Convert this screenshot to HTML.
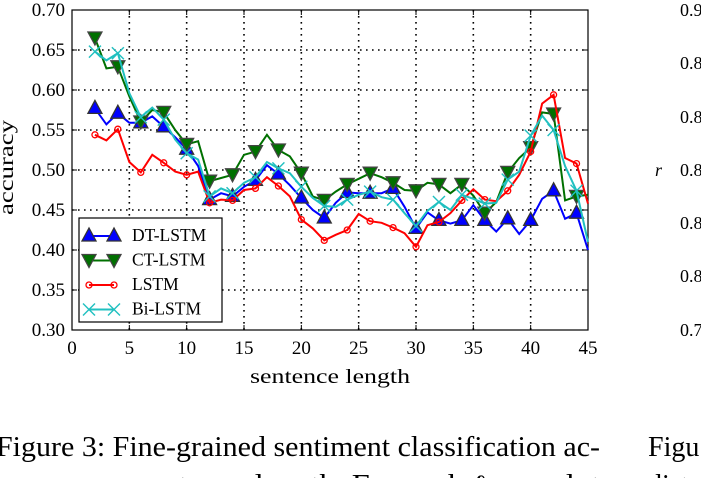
<!DOCTYPE html>
<html><head><meta charset="utf-8"><style>
html,body{margin:0;padding:0;background:#fff;width:701px;height:478px;overflow:hidden}
svg text{font-family:"Liberation Serif",serif}
</style></head><body>
<svg id="chart" width="701" height="478" xmlns="http://www.w3.org/2000/svg">
<g id="grid"></g>
<g id="axes"></g>
<g id="series"></g>
<g id="legend"></g>
<text x="250" y="383" font-size="20" textLength="160" lengthAdjust="spacingAndGlyphs">sentence length</text>
<text transform="translate(13,215) rotate(-90)" font-size="20" textLength="95" lengthAdjust="spacingAndGlyphs">accuracy</text>
<text x="-4" y="456" font-size="28" textLength="604" lengthAdjust="spacingAndGlyphs">Figure 3: Fine-grained sentiment classification ac-</text>
<text x="-4" y="494" font-size="28" textLength="604" lengthAdjust="spacingAndGlyphs">curacy vs. sentence length. For each ℓ, we plot</text>
<g font-size="18">
<text x="680" y="16">0.9</text><text x="680" y="69">0.8</text><text x="680" y="123">0.8</text><text x="680" y="176">0.8</text><text x="680" y="229">0.8</text><text x="680" y="282">0.8</text><text x="680" y="336">0.7</text>
<text x="655" y="176" font-style="italic">r</text>
<text x="648" y="456" font-size="28">Figu</text>
<text x="648" y="494" font-size="28">dist</text>
</g>
</svg>
<script>
const xs=[2,3,4,5,6,7,8,9,10,11,12,13,14,15,16,17,18,19,20,21,22,23,24,25,26,27,28,29,30,31,32,33,34,35,36,37,38,39,40,41,42,43,44,45];
const dtLstm=[.577,.557,.571,.559,.559,.567,.554,.541,.526,.505,.463,.471,.467,.479,.487,.506,.495,.481,.465,.450,.440,.459,.472,.471,.471,.471,.477,.454,.427,.447,.437,.433,.437,.456,.437,.423,.439,.420,.437,.464,.474,.439,.446,.400];
const ctLstm=[.665,.627,.629,.592,.560,.575,.572,.550,.532,.536,.486,.490,.494,.519,.523,.544,.525,.517,.496,.467,.462,.473,.482,.489,.496,.491,.484,.475,.474,.484,.482,.471,.482,.468,.446,.460,.497,.515,.528,.572,.570,.462,.467,.469];
const lstm=[.544,.537,.551,.510,.497,.519,.509,.498,.494,.498,.459,.463,.462,.475,.477,.491,.480,.467,.438,.427,.412,.419,.425,.445,.436,.434,.428,.421,.404,.431,.435,.446,.462,.476,.463,.461,.474,.494,.523,.583,.594,.515,.508,.458];
const biLstm=[.648,.637,.646,.596,.566,.578,.563,.538,.521,.513,.467,.477,.471,.484,.491,.510,.502,.496,.479,.465,.455,.454,.463,.469,.473,.466,.463,.446,.430,.449,.460,.450,.469,.464,.458,.459,.488,.498,.543,.568,.550,.505,.474,.410];
const xTicks=[0,5,10,15,20,25,30,35,40,45];
const yTicks=[0.30,0.35,0.40,0.45,0.50,0.55,0.60,0.65,0.70];
const NS='http://www.w3.org/2000/svg';
const X=v=>72+v*(516/45), Y=v=>10+(0.70-v)*800;
function mk(t,a,p){const e=document.createElementNS(NS,t);for(const k in a)e.setAttribute(k,a[k]);p.appendChild(e);return e;}
const grid=document.getElementById('grid'),axes=document.getElementById('axes'),ser=document.getElementById('series'),leg=document.getElementById('legend');
xTicks.forEach(t=>{
 if(t>0&&t<45){const l=mk('line',{x1:X(t),x2:X(t),y1:10,y2:330,stroke:'#000','stroke-width':1.6,'stroke-dasharray':'1.6 4.4'},grid);}
 const tx=mk('text',{x:X(t),y:354,'font-size':19,'text-anchor':'middle'},axes);tx.textContent=t;
 
 mk('line',{x1:X(t),x2:X(t),y1:330,y2:325,stroke:'#000'},axes);mk('line',{x1:X(t),x2:X(t),y1:10,y2:15,stroke:'#000'},axes);
});
yTicks.forEach(t=>{
 if(t>0.301&&t<0.699){const l=mk('line',{x1:72,x2:588,y1:Y(t),y2:Y(t),stroke:'#000','stroke-width':1.6,'stroke-dasharray':'1.6 4.4'},grid);}
 const tx=mk('text',{x:65,y:Y(t)+6,'font-size':19,'text-anchor':'end'},axes);tx.textContent=t.toFixed(2);
 
 mk('line',{x1:72,x2:77,y1:Y(t),y2:Y(t),stroke:'#000'},axes);mk('line',{x1:588,x2:583,y1:Y(t),y2:Y(t),stroke:'#000'},axes);
});
const fr=mk('rect',{x:72,y:10,width:516,height:320,fill:'none',stroke:'#000','stroke-width':1.2},axes);

function marker(type,x,y,g){
 if(type==='up')mk('polygon',{points:`${x},${y-8} ${x-7},${y+5} ${x+7},${y+5}`,fill:'#0000ff',stroke:'#333','stroke-width':1.3},g);
 else if(type==='down')mk('polygon',{points:`${x},${y+7} ${x-7},${y-6} ${x+7},${y-6}`,fill:'#007000',stroke:'#444','stroke-width':1.3},g);
 else if(type==='circ')mk('circle',{cx:x,cy:y,r:3,fill:'none',stroke:'#ff0000','stroke-width':1.3},g);
 else{mk('line',{x1:x-6,y1:y-6,x2:x+6,y2:y+6,stroke:'#20c0c0','stroke-width':1.4},g);mk('line',{x1:x-6,y1:y+6,x2:x+6,y2:y-6,stroke:'#20c0c0','stroke-width':1.4},g);}
}
const S=[['DT-LSTM',dtLstm,'#0000ff','up'],['CT-LSTM',ctLstm,'#007000','down'],['LSTM',lstm,'#ff0000','circ'],['Bi-LSTM',biLstm,'#20c0c0','x']];
S.forEach(([n,d,c,m])=>{
 const g=mk('g',{},ser);
 mk('polyline',{points:d.map((v,i)=>X(xs[i])+','+Y(v)).join(' '),fill:'none',stroke:c,'stroke-width':2},g);
 d.forEach((v,i)=>{if(xs[i]%2===0)marker(m,X(xs[i]),Y(v),g);});
});
const lb=mk('rect',{x:79,y:218,width:143,height:104,fill:'#fff',stroke:'#000','stroke-width':1.2},leg);

S.forEach(([n,d,c,m],i)=>{
 const y=236+i*24.5;const g=mk('g',{},leg);
 
 mk('line',{x1:89,x2:114,y1:y,y2:y,stroke:c,'stroke-width':2},g);marker(m,89,y,g);marker(m,114,y,g);
 const t=mk('text',{x:132,y:y+5,'font-size':17.5},g);t.textContent=n;
});
</script>
</body></html>
